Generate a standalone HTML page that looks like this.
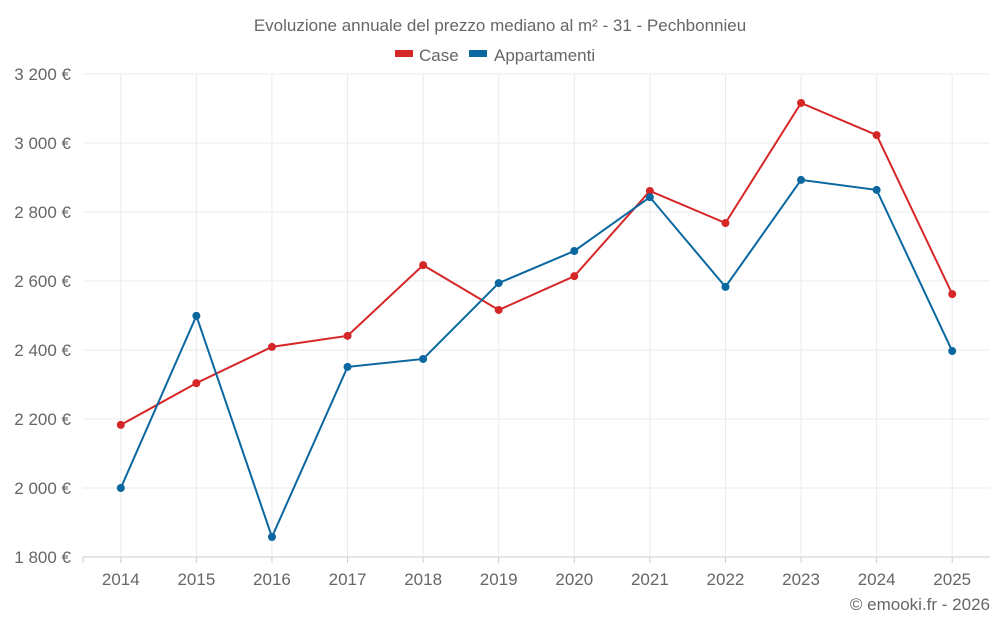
<!DOCTYPE html>
<html><head><meta charset="utf-8"><style>
body{margin:0;background:#fff;font-family:"Liberation Sans",sans-serif;}
svg text{font-family:"Liberation Sans",sans-serif;}
</style></head><body>
<svg id="chart" width="1000" height="625" xmlns="http://www.w3.org/2000/svg">
<text x="500" y="31" text-anchor="middle" font-size="17" fill="#666">Evoluzione annuale del prezzo mediano al m² - 31 - Pechbonnieu</text>
<g>
<g><rect x="395" y="50" width="18" height="7" fill="#d62728"/><text x="419" y="61" font-size="17" fill="#666">Case</text></g>
<g><rect x="469" y="50" width="18" height="7" fill="#0a67a0"/><text x="494" y="61" font-size="17" fill="#666">Appartamenti</text></g>
</g>
<g id="grid"></g>
<g id="axes"></g>
<g id="series"></g>
<text x="990" y="610" text-anchor="end" font-size="17" fill="#666">© emooki.fr - 2026</text>
</svg>
<script>
const years=["2014","2015","2016","2017","2018","2019","2020","2021","2022","2023","2024","2025"];
const caseValues=[2183,2304,2409,2441,2646,2516,2614,2861,2768,3116,3023,2562];
const apptValues=[2000,2499,1858,2351,2374,2594,2687,2843,2583,2893,2864,2397];
const yTicks=[1800,2000,2200,2400,2600,2800,3000,3200];
const yTickLabels=["1 800 €","2 000 €","2 200 €","2 400 €","2 600 €","2 800 €","3 000 €","3 200 €"];

const NS="http://www.w3.org/2000/svg";
const L=83,R=990,T=74,B=557,yMin=1800,yMax=3200;
const step=(R-L)/years.length;
const x=i=>L+step*(i+0.5);
const y=v=>B-(v-yMin)/(yMax-yMin)*(B-T);
function mk(tag,attrs,parent){const e=document.createElementNS(NS,tag);for(const k in attrs)e.setAttribute(k,attrs[k]);parent.appendChild(e);return e;}
const grid=document.getElementById('grid'),axes=document.getElementById('axes'),series=document.getElementById('series');
yTicks.forEach((t,i)=>{
  const g=mk('line',{x1:L,x2:R,y1:y(t),y2:y(t),stroke:i===0?'#ccc':'#ebebeb','stroke-width':1},grid);
  
  
  const tx=mk('text',{x:71,y:y(t)+6,'text-anchor':'end','font-size':17,fill:'#666'},axes);
  tx.textContent=yTickLabels[i];
  
  
});
const lt=mk('line',{x1:L,x2:L,y1:B,y2:B+6,stroke:'#ccc','stroke-width':1},grid);


years.forEach((yr,i)=>{
  const g=mk('line',{x1:x(i),x2:x(i),y1:T,y2:B,stroke:'#ebebeb','stroke-width':1},grid);
  
  
  const tk=mk('line',{x1:x(i),x2:x(i),y1:B,y2:B+6,stroke:'#ccc','stroke-width':1},grid);
  
  
  const tx=mk('text',{x:x(i),y:585,'text-anchor':'middle','font-size':17,fill:'#666'},axes);
  tx.textContent=yr;
  
  
});
function draw(vals,color,name){
  const p=mk('polyline',{points:vals.map((v,i)=>x(i)+','+y(v)).join(' '),fill:'none',stroke:color,'stroke-width':2},series);
  
  
  vals.forEach((v,i)=>{
    const c=mk('circle',{cx:x(i),cy:y(v),r:4,fill:color},series);
    
    
  });
}
draw(caseValues,'#d62728','case');
draw(apptValues,'#0a67a0','appartamenti');
</script>
</body></html>
